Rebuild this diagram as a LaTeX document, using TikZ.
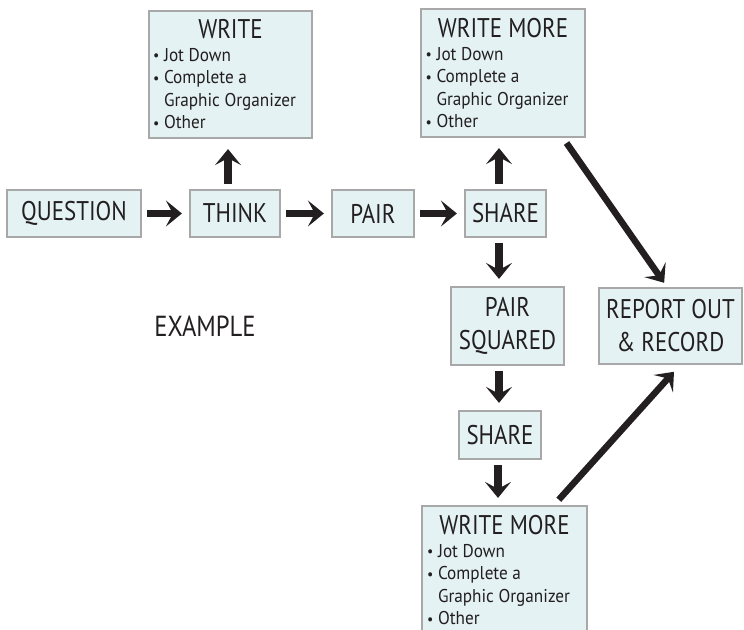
\documentclass[tikz,border=0pt]{standalone}
\usepackage{fontspec}
\setmainfont{PT Sans}[FakeStretch=0.85]
\newfontfamily\itemfont{PT Sans}[FakeStretch=0.93]
\usetikzlibrary{arrows.meta}
\definecolor{boxfill}{HTML}{E4F2F4}
\definecolor{boxline}{HTML}{A8A8A8}
\definecolor{ink}{HTML}{231F20}
\newcommand{\bigtxt}{\fontsize{27}{29}\selectfont}
\newcommand{\twoline}{\fontsize{27}{33}\selectfont}
\newcommand{\smalltxt}{\itemfont\fontsize{18.5}{22.5}\selectfont}
\newcommand{\blt}{\makebox[11pt][l]{\raisebox{0.5pt}{\fontsize{15}{15}\selectfont\textbullet}}}
\newcommand{\writelist}[1]{%
  \begin{minipage}{155pt}
    \centering\bigtxt #1\par
    \raggedright\smalltxt
    \blt Jot Down\par
    \blt Complete a\par
    \hspace*{11pt}Graphic Organizer\par
    \blt Other
  \end{minipage}}
\tikzset{
  stage/.style={draw=boxline, line width=2.2pt, fill=boxfill, text=ink, inner sep=0pt, font=\bigtxt},
  flow/.style={draw=ink, line width=7.5pt, -{Stealth[length=16pt,width=26pt,inset=7pt]}, shorten <=5pt, shorten >=7pt},
  slant/.style={flow, line width=6.5pt},
}

\begin{document}
\begin{tikzpicture}[x=1pt,y=-1pt]
			%%%%% START %%%%%
			\clip (0,0) rectangle (744,629);
			
			% top row
			\node[stage, minimum width=134pt, minimum height=47pt] (question) at (74,213.5) {QUESTION};
			\node[stage, minimum width=90pt, minimum height=47pt] (think) at (235,213.5) {THINK};
			\node[stage, minimum width=82pt, minimum height=47pt] (pair) at (373,213.5) {PAIR};
			\node[stage, minimum width=81pt, minimum height=47pt] (share) at (505.5,213.5) {SHARE};
			
			\node[stage, minimum width=163pt, minimum height=127pt] (write) at (230.5,74.5) {\writelist{WRITE}};
			\node[stage, minimum width=164pt, minimum height=128pt] (more) at (503,73) {\writelist{WRITE MORE}};
			
			% right column
			\node[stage, minimum width=143pt, minimum height=76pt, align=center, font=\twoline] (report) at (670.5,326) {REPORT OUT\\\& RECORD};
			\node[stage, minimum width=113pt, minimum height=78pt, align=center, font=\twoline] (squared) at (507.5,326) {PAIR\\SQUARED};
			\node[stage, minimum width=82pt, minimum height=48pt] (sharetwo) at (500,435) {SHARE};
			\node[stage, minimum width=165pt, minimum height=128pt] (moretwo) at (504.5,570) {\writelist{WRITE MORE}};
			
			\node[text=ink, font=\fontsize{29}{31}\selectfont] (example) at (205,326) {EXAMPLE};
			
			% arrows
			\draw[flow] (question) -- (think);
			\draw[flow] (think) -- (pair);
			\draw[flow] (pair) -- (share);
			\draw[flow, shorten >=10pt] ([xshift=-7pt]think.north) -- ([xshift=-2.5pt]write.south);
			\draw[flow, shorten >=10pt] ([xshift=-6.5pt]share.north) -- ([xshift=-4pt]more.south);
			\draw[flow] ([xshift=-6.5pt]share.south) -- ([xshift=-8.5pt]squared.north);
			\draw[flow] ([xshift=-8.5pt]squared.south) -- ([xshift=-1pt]sharetwo.north);
			\draw[flow] ([xshift=-2pt]sharetwo.south) -- ([xshift=-6.5pt]moretwo.north);
			
			\draw[slant, shorten <=6pt, shorten >=5pt] ([xshift=-23pt]more.south east) -- ([xshift=-3.5pt]report.north);
			\draw[slant, shorten <=7pt, shorten >=9pt] ([xshift=-34pt]moretwo.north east) -- ([xshift=9.5pt]report.south);
			
			%%%%% END %%%%%
\end{tikzpicture}
\end{document}
